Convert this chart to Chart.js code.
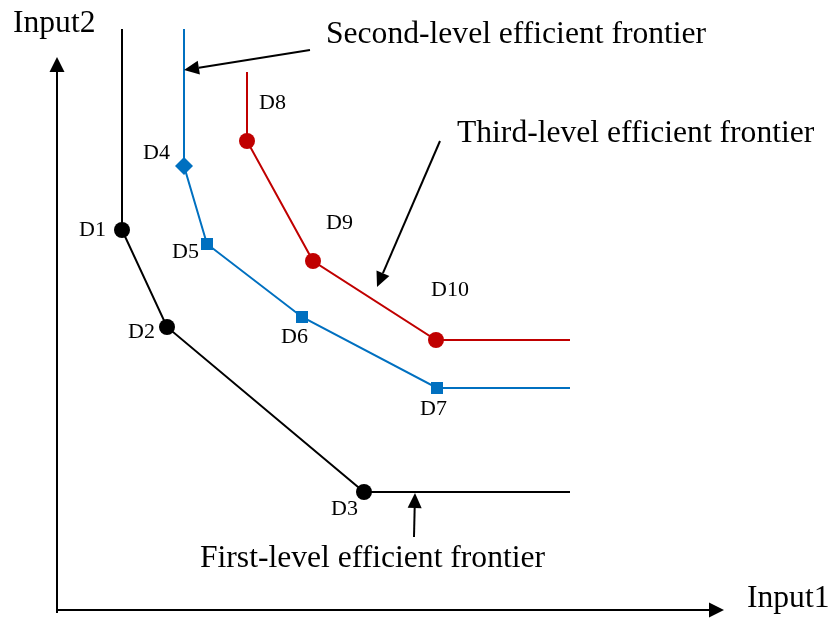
<!DOCTYPE html>
<html>
<head>
<meta charset="utf-8">
<script src="https://cdn.jsdelivr.net/npm/chart.js@4.4.0/dist/chart.umd.min.js"></script>
<style>
  body { margin: 0; background: #fff; }
  #wrap { width: 828px; height: 619px; }
</style>
</head>
<body>
<div id="wrap"><canvas id="grafica" width="828" height="619"></canvas></div>
<script>
// datos de las fronteras (Input1, Input2)
const frontera1X = [1.30, 1.30, 2.20, 6.14, 10.26];
const frontera1Y = [11.62, 7.60, 5.66, 2.36, 2.36];
const frontera1Nombres = ['', 'D1', 'D2', 'D3', ''];

const frontera2X = [2.54, 2.54, 3.00, 4.90, 7.60, 10.26];
const frontera2Y = [11.62, 8.88, 7.32, 5.86, 4.44, 4.44];
const frontera2Nombres = ['', 'D4', 'D5', 'D6', 'D7', ''];

const frontera3X = [3.80, 3.80, 5.12, 7.58, 10.26];
const frontera3Y = [10.76, 9.38, 6.98, 5.40, 5.40];
const frontera3Nombres = ['', 'D8', 'D9', 'D10', ''];

// etiquetas de los ejes y de las fronteras
const textos = ['Input2', 'Input1', 'Second-level efficient frontier',
  'Third-level efficient frontier', 'First-level efficient frontier'];

// desplazamiento en pixeles de cada etiqueta Dn respecto a su punto
const desplaz = {
  D1: [-43, 6], D2: [-39, 11], D3: [-33, 23], D4: [-41, -7], D5: [-35, 14],
  D6: [-21, 26], D7: [-17, 27], D8: [12, -32], D9: [13, -32], D10: [-5, -44]
};

function puntos(xs, ys) {
  return xs.map((x, i) => ({ x: x, y: ys[i] }));
}

function radios(nombres, r) {
  return nombres.map(n => n ? r : 0);
}

const serif = '"Liberation Serif", "Times New Roman", serif';

function flecha(ctx, x1, y1, x2, y2, largo, ancho, grosor) {
  const ang = Math.atan2(y2 - y1, x2 - x1);
  const bx = x2 - Math.cos(ang) * largo;
  const by = y2 - Math.sin(ang) * largo;
  ctx.beginPath();
  ctx.lineWidth = grosor;
  ctx.moveTo(x1, y1);
  ctx.lineTo(bx, by);
  ctx.stroke();
  ctx.beginPath();
  ctx.moveTo(x2, y2);
  ctx.lineTo(bx + Math.sin(ang) * ancho, by - Math.cos(ang) * ancho);
  ctx.lineTo(bx - Math.sin(ang) * ancho, by + Math.cos(ang) * ancho);
  ctx.closePath();
  ctx.fill();
}

const dibujoExtra = {
  id: 'dibujoExtra',
  afterDatasetsDraw(chart) {
    const ctx = chart.ctx;
    const sx = chart.scales.x, sy = chart.scales.y;
    const px = v => sx.getPixelForValue(v);
    const py = v => sy.getPixelForValue(v);
    ctx.save();
    ctx.strokeStyle = '#000';
    ctx.fillStyle = '#000';

    // ejes con flecha
    flecha(ctx, px(0), py(-0.06), px(0), py(11.06), 15, 7.5, 2);
    flecha(ctx, px(0), py(0), px(13.34), py(0), 15, 7.5, 2);

    // flechas de las anotaciones
    flecha(ctx, px(5.06), py(11.2), px(2.54), py(10.8), 15, 7, 2);
    flecha(ctx, px(7.66), py(9.38), px(6.40), py(6.46), 15, 7, 2);
    flecha(ctx, px(7.14), py(1.46), px(7.16), py(2.34), 15, 7, 2);

    // textos grandes
    ctx.textAlign = 'left';
    ctx.textBaseline = 'alphabetic';
    ctx.font = '31.6px ' + serif;
    ctx.fillText(textos[0], px(-0.88), py(11.56));
    ctx.fillText(textos[1], px(13.8), py(0.06));
    ctx.fillText(textos[2], px(5.38), py(11.34));
    ctx.fillText(textos[3], px(8.0), py(9.36));
    ctx.fillText(textos[4], px(2.86), py(0.86));

    // etiquetas Dn
    ctx.font = '22px ' + serif;
    chart.data.datasets.forEach((ds, i) => {
      const meta = chart.getDatasetMeta(i);
      ds.nombres.forEach((n, j) => {
        if (!n) return;
        const el = meta.data[j];
        const d = desplaz[n];
        ctx.fillText(n, el.x + d[0], el.y + d[1]);
      });
    });
    ctx.restore();
  }
};

new Chart(document.getElementById('grafica'), {
  type: 'scatter',
  data: {
    datasets: [
      {
        data: puntos(frontera1X, frontera1Y),
        nombres: frontera1Nombres,
        showLine: true,
        borderColor: '#000000',
        backgroundColor: '#000000',
        borderWidth: 2,
        pointStyle: 'circle',
        pointRadius: radios(frontera1Nombres, 8),
        pointBorderWidth: 0
      },
      {
        data: puntos(frontera2X, frontera2Y),
        nombres: frontera2Nombres,
        showLine: true,
        borderColor: '#0070C0',
        backgroundColor: '#0070C0',
        borderWidth: 2,
        pointStyle: ['rect', 'rectRot', 'rect', 'rect', 'rect', 'rect'],
        pointRadius: frontera2Nombres.map((n, i) => !n ? 0 : (i === 1 ? 9 : 8.5)),
        pointBorderWidth: 0
      },
      {
        data: puntos(frontera3X, frontera3Y),
        nombres: frontera3Nombres,
        showLine: true,
        borderColor: '#C00000',
        backgroundColor: '#C00000',
        borderWidth: 2,
        pointStyle: 'circle',
        pointRadius: radios(frontera3Nombres, 8),
        pointBorderWidth: 0
      }
    ]
  },
  options: {
    responsive: false,
    animation: false,
    layout: { padding: 0 },
    elements: { line: { tension: 0 } },
    plugins: {
      legend: { display: false },
      tooltip: { enabled: false }
    },
    scales: {
      x: { type: 'linear', min: -1.14, max: 15.42, display: false },
      y: { type: 'linear', min: -0.18, max: 12.2, display: false }
    }
  },
  plugins: [dibujoExtra]
});
</script>
</body>
</html>
